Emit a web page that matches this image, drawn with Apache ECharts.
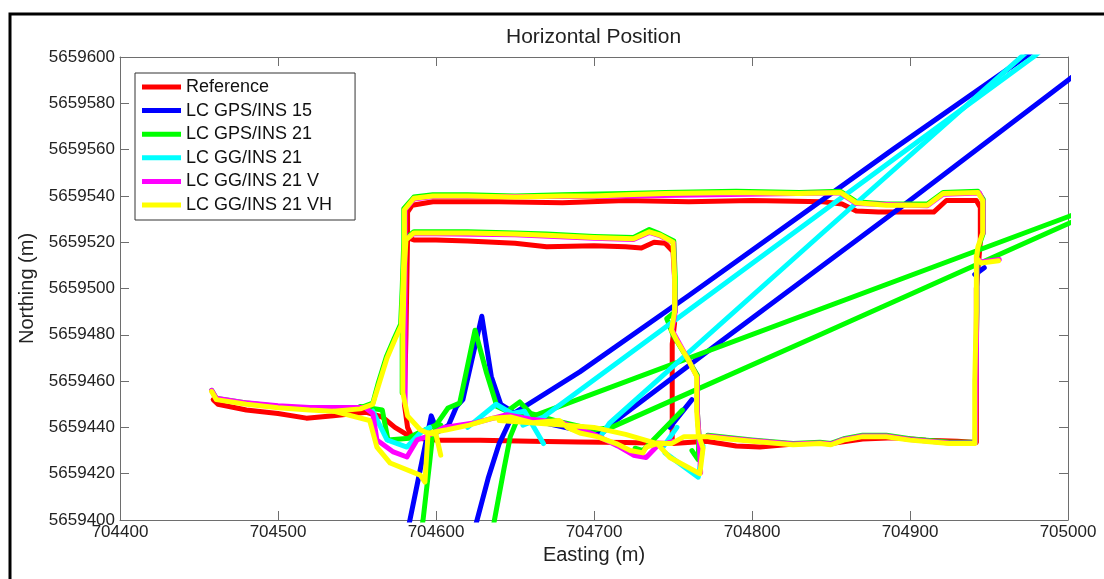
<!DOCTYPE html>
<html lang="en">
<head>
    <meta charset="UTF-8">
    <title>Horizontal Position</title>
    <script src="https://cdn.jsdelivr.net/npm/echarts@6/dist/echarts.min.js"></script>
    <style>
        html, body { margin: 0; padding: 0; background: #fff; }
        #chart { width: 1104px; height: 579px; }
    </style>
</head>
<body>
<div id="chart"></div>
<script>
    // axis ranges and ticks (metres, UTM)
    const eastTicks = [704400, 704500, 704600, 704700, 704800, 704900, 705000];
    const northTicks = [5659400, 5659420, 5659440, 5659460, 5659480, 5659500, 5659520, 5659540, 5659560, 5659580, 5659600];

    const names = ["Reference", "LC GPS/INS 15", "LC GPS/INS 21", "LC GG/INS 21", "LC GG/INS 21 V", "LC GG/INS 21 VH"];
    const colors = ["#ff0000", "#0000ff", "#00ff00", "#00ffff", "#ff00ff", "#ffff00"];

    // Reference track, [easting, northing]
    const refMain = [[704459, 5659452], [704462, 5659450], [704480, 5659447.5], [704500, 5659446], [704518, 5659444], [704535, 5659445],
        [704556, 5659446.5], [704566, 5659444.5], [704574, 5659440], [704585, 5659435.5], [704600, 5659434.5], [704628, 5659434.5],
        [704660, 5659434], [704690, 5659433.7], [704720, 5659433.5], [704750, 5659433], [704771, 5659434], [704790, 5659432],
        [704805, 5659431.5], [704830, 5659433], [704850, 5659433], [704870, 5659435], [704890, 5659435.5], [704910, 5659434.5],
        [704930, 5659434], [704942, 5659433.5], [704942, 5659440], [704942, 5659500], [704944.5, 5659520], [704944.5, 5659535],
        [704942, 5659538], [704930, 5659538], [704923, 5659538], [704915, 5659533], [704880, 5659533], [704866, 5659533.5],
        [704857, 5659536.5], [704845, 5659537.5], [704800, 5659538], [704760, 5659537.5], [704720, 5659538], [704680, 5659537],
        [704640, 5659537.5], [704598, 5659537.5], [704585, 5659536], [704582, 5659533], [704582, 5659522], [704586, 5659521],
        [704600, 5659521], [704620, 5659520.5], [704650, 5659519.5], [704670, 5659518], [704700, 5659518.5], [704720, 5659518],
        [704730, 5659517.5], [704738, 5659520], [704745, 5659519.5], [704750, 5659516], [704751, 5659505], [704751, 5659485],
        [704749.5, 5659476], [704749.5, 5659433]];
    const refLeft = [[704582, 5659522], [704581, 5659480], [704580, 5659450], [704582, 5659440], [704585, 5659435.5]];

    // LC GPS/INS 15
    const gps15A = [[704579, 5659385], [704583.5, 5659400], [704591, 5659425], [704597, 5659445], [704601, 5659438], [704608, 5659441],
        [704613, 5659449], [704617, 5659452], [704629, 5659488], [704635, 5659462], [704641, 5659450], [704655, 5659444],
        [704675, 5659441], [704695, 5659438], [704706, 5659438], [704712, 5659442], [704780, 5659477], [704894, 5659535],
        [705000, 5659590], [705010, 5659595]];
    const gps15B = [[704622, 5659390], [704626, 5659400], [704633, 5659418], [704640, 5659433], [704649, 5659446], [704691, 5659464],
        [704760, 5659497], [704889, 5659560], [704975, 5659601], [704980, 5659604]];
    const gps15C = [[704748, 5659440], [704762, 5659452]];
    const gps15D = [[704941, 5659506], [704947, 5659509]];

    // LC GPS/INS 21
    const gps21Rect = [[704458, 5659456], [704461, 5659452.5], [704480, 5659450.5], [704500, 5659449], [704520, 5659448],
        [704535, 5659447.5], [704552, 5659448.5], [704560, 5659450.5], [704563.6, 5659459.5], [704568.6, 5659470.5],
        [704573.6, 5659478.5], [704577.6, 5659484.5], [704578.6, 5659500], [704579.6, 5659520], [704579.6, 5659534.5],
        [704586, 5659539.5], [704598, 5659540.5], [704620, 5659540.5], [704650, 5659540], [704680, 5659540.5], [704720, 5659541],
        [704745, 5659541.5], [704790, 5659542], [704830, 5659541.5], [704856, 5659542], [704866, 5659537.5], [704885, 5659536.5],
        [704911, 5659536.5], [704921, 5659541.5], [704943, 5659542], [704946.4, 5659538.5], [704946.4, 5659524],
        [704943.4, 5659518], [704942.4, 5659514], [704942.4, 5659490], [704941.4, 5659460], [704941.4, 5659433.6],
        [704925, 5659433.6], [704900, 5659435.1], [704885, 5659436.6], [704870, 5659436.6], [704858, 5659435.1],
        [704850, 5659433.1], [704843, 5659433.6], [704826, 5659433.1], [704800, 5659434.6], [704785, 5659435.6],
        [704772, 5659436.6]];
    const gps21Inner = [[704578.6, 5659455], [704578.6, 5659480], [704579.6, 5659510], [704580.6, 5659521.5], [704586, 5659524.5],
        [704600, 5659524.5], [704620, 5659524.5], [704650, 5659524], [704670, 5659523.5], [704700, 5659522.5], [704725, 5659522],
        [704735, 5659525.5], [704742, 5659523.5], [704750.5, 5659520.5], [704751.4, 5659505], [704751.4, 5659490],
        [704746, 5659487], [704750, 5659480], [704758, 5659471], [704765.4, 5659462.5], [704765.4, 5659447], [704766.4, 5659437],
        [704766, 5659426], [704762, 5659430]];
    const gps21Spike = [[704584, 5659436], [704590, 5659438], [704600, 5659441], [704607.6, 5659448.4], [704615, 5659450.5],
        [704624.7, 5659482], [704632, 5659463.5], [704638.6, 5659449], [704645, 5659447], [704653, 5659451], [704660, 5659446],
        [704675, 5659443], [704700, 5659439], [704711, 5659440], [704843, 5659480], [705000, 5659528], [705010, 5659531]];
    const gps21B = [[704633, 5659385], [704637, 5659400], [704643, 5659422], [704647, 5659436], [704653, 5659446], [704662, 5659445],
        [705000, 5659531], [705010, 5659533.5]];
    const gps21C = [[704588, 5659385], [704591.8, 5659400], [704596, 5659425], [704598, 5659437.6], [704603, 5659441]];
    const gps21D = [[704552, 5659449], [704566, 5659447.5], [704569.6, 5659434.6], [704585, 5659435.4], [704590, 5659437.6]];
    const gps21E = [[704726, 5659431], [704731, 5659430], [704756, 5659447.5]];

    // LC GG/INS 21
    const gg21A = [[704655, 5659441], [704668, 5659444.5], [704894, 5659558], [704978, 5659600], [704985, 5659604]];
    const gg21B = [[704704, 5659436], [704710, 5659442], [704843, 5659523], [704972, 5659601], [704977, 5659604]];
    const gg21C = [[704620, 5659440], [704638, 5659450], [704648, 5659446], [704656, 5659447], [704668, 5659433]];
    const gg21D = [[704560, 5659447], [704569, 5659434.6], [704581.6, 5659431.5], [704590, 5659437.6], [704596, 5659440]];
    const gg21E = [[704743.7, 5659431.5], [704752.5, 5659440]];
    const gg21F = [[704745, 5659429], [704766, 5659418.5], [704769, 5659432]];

    // LC GG/INS 21 V
    const gg21vA = [[704458, 5659456], [704461, 5659452.6], [704480, 5659450.6], [704500, 5659449.4], [704520, 5659448.6],
        [704540, 5659448.6], [704555, 5659448.6], [704560, 5659446], [704562.6, 5659434.6], [704573, 5659429.4],
        [704581.6, 5659427.2], [704588, 5659434.6], [704594, 5659436], [704605, 5659440], [704625, 5659442], [704645, 5659445.5],
        [704660, 5659443.5], [704680, 5659442], [704700, 5659437], [704715, 5659432], [704725, 5659428], [704733, 5659427],
        [704740, 5659432], [704750, 5659434]];
    const gg21vB = [[704772, 5659436.3], [704785, 5659435.3], [704800, 5659434.3], [704826, 5659432.8], [704843, 5659433.3],
        [704850, 5659432.8], [704858, 5659434.8], [704870, 5659436.3], [704885, 5659436.3], [704900, 5659434.8],
        [704925, 5659433.3], [704941.3, 5659433.3], [704941.8, 5659460], [704942.3, 5659490], [704942.3, 5659513],
        [704945, 5659511.5], [704956.5, 5659512.5]];
    const gg21vC = [[704580.4, 5659450], [704580.4, 5659520], [704580.4, 5659534], [704586, 5659538.7], [704598, 5659539.7],
        [704700, 5659539.7], [704850, 5659541.2], [704856, 5659541.2], [704866, 5659536.7], [704911, 5659535.7], [704921, 5659540.7],
        [704944, 5659541.2], [704946.3, 5659537.7], [704946.3, 5659524]];
    const gg21vD = [[704580.4, 5659521], [704586, 5659523.7], [704600, 5659523.7], [704650, 5659523.2], [704700, 5659521.7],
        [704725, 5659521.2], [704735, 5659524.2], [704742, 5659522.7], [704750.4, 5659519.7], [704751.4, 5659490],
        [704749.4, 5659482], [704759.4, 5659469.6], [704765.4, 5659461.6], [704765.4, 5659447], [704766.4, 5659437],
        [704767.5, 5659420.5]];

    // LC GG/INS 21 VH
    const gg21vhA = [[704458, 5659455.5], [704461, 5659452], [704480, 5659450], [704500, 5659448.5], [704520, 5659447.5],
        [704535, 5659447], [704552, 5659448], [704560, 5659450], [704564, 5659459], [704569, 5659470], [704574, 5659478],
        [704578, 5659484], [704579, 5659500], [704580, 5659520], [704580, 5659534], [704586, 5659539], [704598, 5659540],
        [704620, 5659540], [704650, 5659539.5], [704680, 5659540], [704700, 5659540], [704720, 5659540.5], [704745, 5659541],
        [704790, 5659541.5], [704830, 5659541], [704856, 5659541.5], [704866, 5659537], [704885, 5659536], [704911, 5659536],
        [704921, 5659541], [704943, 5659541.5], [704946, 5659538], [704946, 5659524], [704943, 5659518], [704942, 5659513],
        [704945, 5659511], [704956, 5659512]];
    const gg21vhB = [[704942, 5659514], [704942, 5659490], [704941, 5659460], [704941, 5659433], [704925, 5659433],
        [704900, 5659434.5], [704885, 5659436], [704870, 5659436], [704858, 5659434.5], [704850, 5659432.5], [704843, 5659433],
        [704826, 5659432.5], [704800, 5659434], [704785, 5659435], [704772, 5659436], [704757, 5659436], [704749, 5659433],
        [704740, 5659433], [704733, 5659431.5], [704731, 5659429], [704723, 5659430], [704714, 5659433], [704702, 5659436],
        [704691, 5659437.6], [704683, 5659440], [704678, 5659443], [704661, 5659442], [704647, 5659444.5], [704636, 5659444],
        [704621, 5659441], [704607, 5659439], [704595, 5659437.5], [704590, 5659439], [704582, 5659445], [704579, 5659455],
        [704579, 5659480], [704580, 5659510], [704581, 5659521], [704586, 5659524], [704600, 5659524], [704620, 5659524],
        [704650, 5659523.5], [704670, 5659523], [704700, 5659522], [704725, 5659521.5], [704735, 5659524.5], [704742, 5659523],
        [704750, 5659520], [704751, 5659505], [704751, 5659490], [704749, 5659482], [704752, 5659478], [704759, 5659470],
        [704765, 5659462], [704765, 5659447], [704766, 5659437], [704769, 5659431], [704767, 5659420], [704748, 5659427],
        [704740, 5659433], [704720, 5659437], [704700, 5659440], [704680, 5659441], [704660, 5659442], [704640, 5659443]];
    const gg21vhC = [[704535, 5659447], [704558, 5659443], [704562.6, 5659431.5], [704571, 5659424.6], [704590, 5659419.4],
        [704593, 5659416.4], [704595, 5659437.6], [704600, 5659437], [704603, 5659428]];

    // segments per legend entry, same order as names
    const tracks = [
        [refMain, refLeft],
        [gps15A, gps15B, gps15C, gps15D],
        [gps21Rect, gps21Inner, gps21Spike, gps21B, gps21C, gps21D, gps21E],
        [gg21A, gg21B, gg21C, gg21D, gg21E, gg21F],
        [gg21vA, gg21vB, gg21vC, gg21vD],
        [gg21vhA, gg21vhB, gg21vhC]
    ];

    const FONT = "'Liberation Sans', Arial, Helvetica, sans-serif";
    const AXIS_GRAY = "#6e6e6e";

    /**
     * One line series per segment, segments of a track share the legend name.
     * z follows the track order so the last track is painted on top.
     */
    function build_series() {
        const out = [];
        tracks.forEach((segs, i) => {
            segs.forEach((seg) => {
                out.push({
                    name: names[i],
                    type: "line",
                    data: seg,
                    xAxisIndex: 0,
                    yAxisIndex: 0,
                    z: 10 + i,
                    showSymbol: false,
                    symbol: "none",
                    silent: true,
                    clip: true,
                    itemStyle: {color: colors[i]},
                    lineStyle: {color: colors[i], width: 5, join: "round", cap: "round"},
                    emphasis: {disabled: true}
                });
            });
        });
        return out;
    }

    function axis_common(pos, show_labels) {
        return {
            type: "value",
            position: pos,
            axisLine: {show: true, onZero: false, lineStyle: {color: AXIS_GRAY, width: 1}},
            axisTick: {show: true, inside: true, length: 9, lineStyle: {color: AXIS_GRAY}},
            splitLine: {show: false},
            axisLabel: {
                show: show_labels,
                formatter: (v) => String(v),
                color: "#222",
                fontFamily: FONT,
                fontSize: 17
            }
        };
    }

    const xBottom = Object.assign(axis_common("bottom", true), {
        min: eastTicks[0], max: eastTicks[eastTicks.length - 1], interval: 100,
        name: "Easting (m)", nameLocation: "middle", nameGap: 25,
        nameTextStyle: {fontFamily: FONT, fontSize: 20, color: "#222"}
    });
    xBottom.axisLabel.margin = 4;
    const xTop = Object.assign(axis_common("top", false), {
        min: eastTicks[0], max: eastTicks[eastTicks.length - 1], interval: 100
    });
    const yLeft = Object.assign(axis_common("left", true), {
        min: northTicks[0], max: northTicks[northTicks.length - 1], interval: 20,
        name: "Northing (m)", nameLocation: "middle", nameGap: 75,
        nameTextStyle: {fontFamily: FONT, fontSize: 20, color: "#222"}
    });
    yLeft.axisLabel.margin = 5;
    const yRight = Object.assign(axis_common("right", false), {
        min: northTicks[0], max: northTicks[northTicks.length - 1], interval: 20
    });

    const chart = echarts.init(document.getElementById("chart"), null, {renderer: "canvas"});
    chart.setOption({
        animation: false,
        backgroundColor: "#ffffff",
        grid: {left: 120, right: 36, top: 57, bottom: 59, containLabel: false},
        title: {
            text: "Horizontal Position",
            left: 506,
            top: 27,
            padding: 0,
            textStyle: {fontFamily: FONT, fontSize: 21, fontWeight: "normal", color: "#222"}
        },
        legend: {
            data: names,
            orient: "vertical",
            left: 135,
            top: 73,
            z: 30,
            padding: [5, 23, 6, 7],
            itemGap: 5.6,
            itemWidth: 39,
            itemHeight: 5,
            icon: "rect",
            selectedMode: false,
            backgroundColor: "#ffffff",
            borderColor: "#333333",
            borderWidth: 1,
            borderRadius: 0,
            textStyle: {fontFamily: FONT, fontSize: 18, color: "#111"}
        },
        xAxis: [xBottom, xTop],
        yAxis: [yLeft, yRight],
        graphic: [{
            type: "rect",
            silent: true,
            shape: {x: 10, y: 14, width: 1300, height: 800},
            style: {fill: null, stroke: "#000", lineWidth: 3}
        }],
        series: build_series()
    });
</script>
</body>
</html>
